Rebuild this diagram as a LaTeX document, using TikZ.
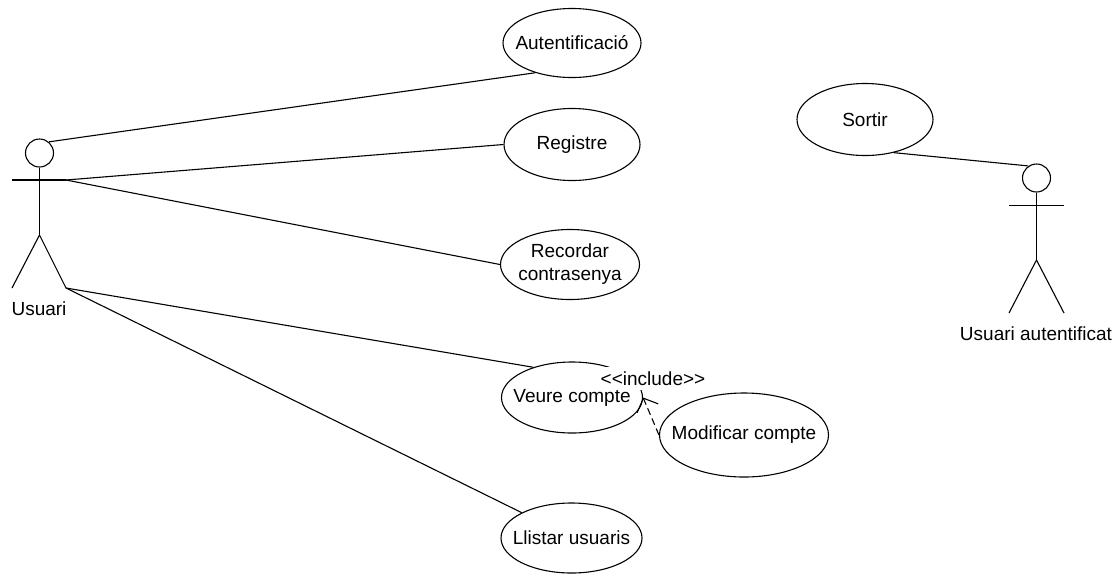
\documentclass[tikz,border=0pt]{standalone}
\usepackage{fontspec}
\setmainfont{Liberation Sans}
\usetikzlibrary{shapes.geometric, arrows.meta}
\tikzset{
  every label/.style={font=\fontsize{9.5}{11.5}\selectfont, align=center, inner sep=0pt},
  usecase/.style={draw, ellipse, inner sep=0pt},
  head/.style={draw, circle, inner sep=0pt, minimum size=14pt},
  actorlabel/.style={font=\fontsize{9.5}{11.5}\selectfont, inner sep=0pt},
  includes/.style={dash pattern=on 3.5pt off 2pt, -{Straight Barb[length=5.5pt,width=11.5pt]}}
}
\begin{document}
\begin{tikzpicture}[x=0.5pt,y=-0.5pt,line width=0.55pt]
        \useasboundingbox (0,0) rectangle (1118,574);
        % Use cases
        \node[usecase, minimum width=69pt, minimum height=34.5pt, label=center:Autentificació] (autentificacio) at (572,43) {};
        \node[usecase, minimum width=68pt, minimum height=36pt, label=center:Registre] (registre) at (572,144.5) {};
        \node[usecase, minimum width=69.5pt, minimum height=35pt, label={center:Recordar\\contrasenya}] (recordar) at (570,264.5) {};
        \node[usecase, minimum width=70.5pt, minimum height=35.5pt, label=center:Veure compte] (veure) at (572,397.5) {};
        \node[usecase, minimum width=84.5pt, minimum height=42pt, label=center:Modificar compte] (modificar) at (744,435) {};
        \node[usecase, minimum width=70.5pt, minimum height=35pt, label=center:Llistar usuaris] (llistar) at (571.5,538) {};
        \node[usecase, minimum width=68pt, minimum height=36pt, label=center:Sortir] (sortir) at (865,119.5) {};

        % Usuari
        \node[head] (usuari) at (39.5,153) {};
        \coordinate (usuarimid) at (39.5,235);
        \coordinate (usuariarm) at (66,180);
        \coordinate (usuarileg) at (66,288);
        \draw (usuari) -- (usuarimid);
        \draw (12,180) -- (usuariarm);
        \draw (12,288) -- (usuarimid) -- (usuarileg);
        \node[actorlabel] (usuarilabel) at (39,309) {Usuari};

        % Usuari autentificat
        \node[head] (autentificat) at (1036.5,178) {};
        \coordinate (autentificatmid) at (1036.5,260);
        \draw (autentificat) -- (autentificatmid);
        \draw (1009,205.5) -- (1064,205.5);
        \draw (1009,313) -- (autentificatmid) -- (1064,313);
        \node[actorlabel] (autentificatlabel) at (1036,334) {Usuari autentificat};

        % Connectors
        \draw (usuari.50) -- (autentificacio.219);
        \draw (usuariarm) -- (registre.west);
        \draw (usuariarm) -- (recordar.west);
        \draw (usuarileg) -- (veure.142);
        \draw (usuarileg) -- (llistar.153);
        \draw (sortir.-49) -- (autentificat.124);
        \draw[includes] (modificar.west) -- (veure.east);
        \node[fill=white, inner sep=0pt, minimum height=11.5pt, font=\fontsize{9.5}{11.5}\selectfont] (include) at (653,378.5) {<{}<include>{}>};
    \end{tikzpicture}
\end{document}
